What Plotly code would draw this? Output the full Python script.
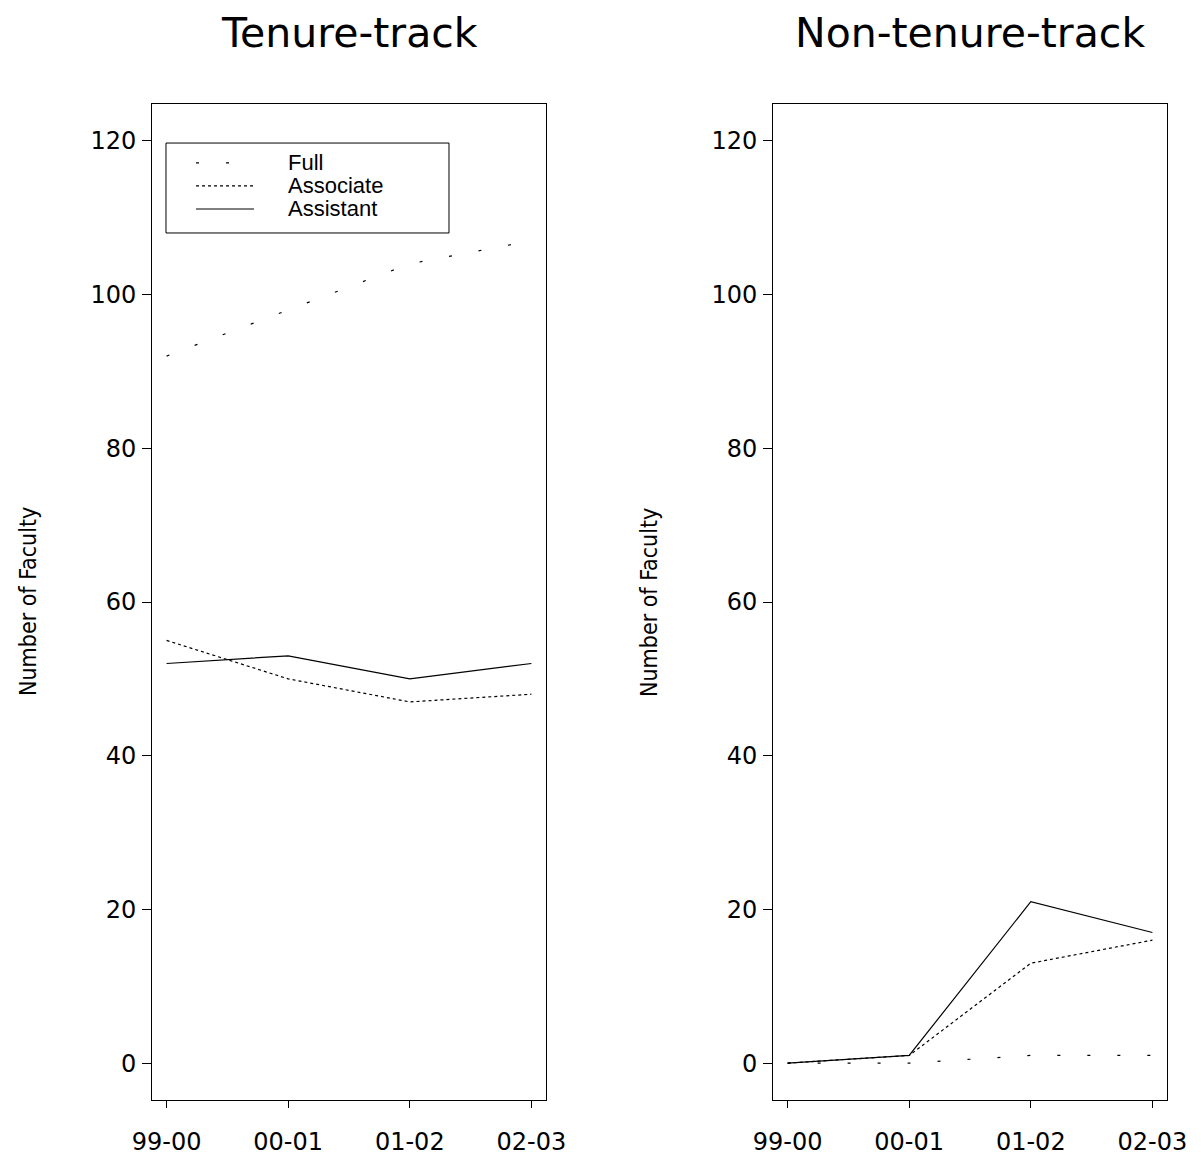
import plotly.graph_objects as go

years = ["99-00", "00-01", "01-02", "02-03"]

tt_full = [92, 98, 104, 107]
tt_associate = [55, 50, 47, 48]
tt_assistant = [52, 53, 50, 52]

ntt_full = [0, 0, 1, 1]
ntt_associate = [0, 1, 13, 16]
ntt_assistant = [0, 1, 21, 17]

panel_titles = ["Tenure-track", "Non-tenure-track"]
series_names = ["Full", "Associate", "Assistant"]
y_ticks = [0, 20, 40, 60, 80, 100, 120]

dashes = {"Full": "3px,27px", "Associate": "3px,3px", "Assistant": "solid"}

W, H = 1201, 1163
fig = go.Figure()

panels = [
    ("x", "y", [tt_full, tt_associate, tt_assistant]),
    ("x2", "y2", [ntt_full, ntt_associate, ntt_assistant]),
]
for xa, ya, series in panels:
    for name, vals in zip(series_names, series):
        fig.add_trace(go.Scatter(
            x=years, y=vals, mode="lines", name=name, xaxis=xa, yaxis=ya,
            line=dict(color="black", width=1.2, dash=dashes[name]),
            showlegend=False, hoverinfo="skip",
        ))

tickfont = dict(family="DejaVu Sans", size=24, color="black")
xcommon = dict(type="category", range=[-0.12, 3.12], showline=True, mirror=True,
               linecolor="black", linewidth=1, ticks="outside", ticklen=7,
               tickcolor="black", tickwidth=1, showgrid=False, zeroline=False,
               tickfont=tickfont, ticklabelstandoff=13, automargin=False)
ycommon = dict(range=[-4.8, 124.8], showline=True, mirror=True, linecolor="black",
               linewidth=1, ticks="outside", ticklen=9, tickcolor="black", tickwidth=1,
               showgrid=False, zeroline=False, tickvals=y_ticks,
               tickfont=tickfont, ticklabelstandoff=1, automargin=False)

ydom = [63 / H, 1059 / H]
fig.update_layout(
    template="none",
    width=W, height=H, margin=dict(l=0, r=0, t=0, b=0, pad=0), autosize=False,
    paper_bgcolor="white", plot_bgcolor="white", showlegend=False,
    xaxis=dict(domain=[152 / W, 546 / W], anchor="y", **xcommon),
    yaxis=dict(domain=ydom, anchor="x", **ycommon),
    xaxis2=dict(domain=[773 / W, 1167 / W], anchor="y2", **xcommon),
    yaxis2=dict(domain=ydom, anchor="x2", **ycommon),
)

# panel titles
for cx, t in zip([349, 970], panel_titles):
    fig.add_annotation(text=t, xref="paper", yref="paper", x=cx / W, y=1 - 33 / H,
                       xanchor="center", yanchor="middle", showarrow=False,
                       font=dict(family="DejaVu Sans", size=41, color="black"))

# y-axis titles
for cx in [28, 649]:
    fig.add_annotation(text="Number of Faculty", xref="paper", yref="paper",
                       x=cx / W, y=1 - 602 / H, textangle=-90,
                       xanchor="center", yanchor="middle", showarrow=False,
                       font=dict(family="Liberation Sans Narrow, DejaVu Sans Condensed, Arial Narrow, sans-serif",
                                 size=23, color="black"))

# legend box in left panel
fig.add_shape(type="rect", xref="x domain", yref="y domain",
              x0=0.0355, x1=0.7538, y0=0.8705, y1=0.9608,
              line=dict(color="black", width=1), fillcolor="white", layer="above")
leg_y = [0.9408, 0.9177, 0.8946]
for name, yy in zip(series_names, leg_y):
    fig.add_shape(type="line", xref="x domain", yref="y domain",
                  x0=0.1117, x1=0.259, y0=yy, y1=yy,
                  line=dict(color="black", width=1.2, dash=dashes[name]), layer="above")
    fig.add_annotation(text=name, xref="x domain", yref="y domain", x=0.340, y=yy,
                       xanchor="left", yanchor="middle", showarrow=False,
                       font=dict(family="Liberation Sans, Arial, sans-serif", size=22, color="black"))

fig.write_html("out.html")
